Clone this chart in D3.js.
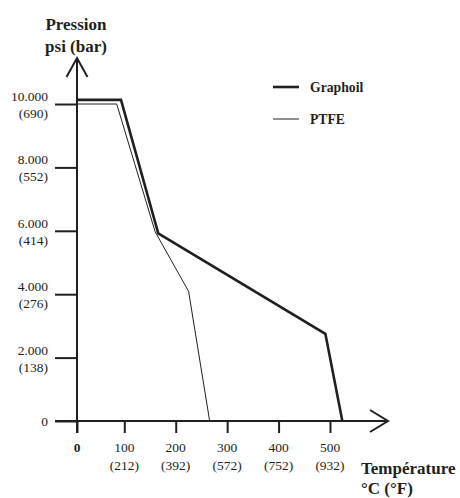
<!DOCTYPE html>
<html>
<head>
    <title>Pression / Température</title>
    <script src="https://cdnjs.cloudflare.com/ajax/libs/d3/7.8.5/d3.min.js"></script>
    <style>
        body {
            margin: 0;
            background-color: white;
        }
        #chart {
            width: 460px;
            height: 498px;
        }
        text {
            font-family: "Liberation Serif", "DejaVu Serif", serif;
            fill: #231f20;
        }
    </style>
</head>
<body>
    <div id="chart"></div>

    <script>
        // Axis ticks
        const tempTicks = [0, 100, 200, 300, 400, 500];
        const tempTicksF = ['', '(212)', '(392)', '(572)', '(752)', '(932)'];
        const psiTicks = [0, 2000, 4000, 6000, 8000, 10000];
        const psiLabels = ['0', '2.000', '4.000', '6.000', '8.000', '10.000'];
        const barLabels = ['', '(138)', '(276)', '(414)', '(552)', '(690)'];

        // Series (temperature °C, pressure psi)
        const graphoilTemp = [0, 93, 166, 491, 524];
        const graphoilPsi = [10130, 10130, 5920, 2750, 0];
        const ptfeTemp = [0, 84, 160, 225, 266];
        const ptfePsi = [10000, 10000, 5970, 4090, 0];

        const ink = '#231f20';

        const svg = d3.select('#chart')
            .append('svg')
                .attr('width', 460)
                .attr('height', 498);

        // Scales (the printed axis has a slightly shorter first interval)
        const x = d3.scaleLinear()
            .domain([0, 100, 500])
            .range([77, 124.3, 330]);

        const y = d3.scaleLinear()
            .domain([0, 10000])
            .range([421, 104]);

        // Y axis ticks
        const yAxis = d3.axisLeft(y)
            .tickValues(psiTicks)
            .tickSize(22)
            .tickFormat('');

        const gy = svg.append('g')
            .attr('transform', `translate(${x(0)},0)`)
            .call(yAxis);
        gy.select('.domain').remove();
        gy.selectAll('.tick line')
            .attr('stroke', ink)
            .attr('stroke-width', 2);

        // X axis ticks
        const xAxis = d3.axisBottom(x)
            .tickValues(tempTicks)
            .tickSize(12)
            .tickFormat('');

        const gx = svg.append('g')
            .attr('transform', `translate(0,${y(0)})`)
            .call(xAxis);
        gx.select('.domain').remove();
        gx.selectAll('.tick line')
            .attr('stroke', ink)
            .attr('stroke-width', 2);

        // Axis lines with open arrow heads
        svg.append('line')
            .attr('x1', x(0)).attr('y1', y(0) + 12)
            .attr('x2', x(0)).attr('y2', 58)
            .attr('stroke', ink).attr('stroke-width', 2);
        svg.append('path')
            .attr('d', `M${x(0) - 10.5},77 L${x(0)},58 L${x(0) + 10.5},77`)
            .attr('fill', 'none').attr('stroke', ink).attr('stroke-width', 2);

        svg.append('line')
            .attr('x1', 55).attr('y1', y(0))
            .attr('x2', 388).attr('y2', y(0))
            .attr('stroke', ink).attr('stroke-width', 2);
        svg.append('path')
            .attr('d', `M370,${y(0) - 11} L388,${y(0)} L370,${y(0) + 11}`)
            .attr('fill', 'none').attr('stroke', ink).attr('stroke-width', 2);

        // Y tick labels
        psiTicks.forEach((d, i) => {
            const t = svg.append('text')
                .attr('text-anchor', 'end')
                .style('font-size', '13.5px');
            if (d === 0) {
                t.attr('x', 48).attr('y', y(d) + 5).text(psiLabels[i]);
            } else {
                t.append('tspan').attr('x', 48).attr('y', y(d) - 3).text(psiLabels[i]);
                t.append('tspan').attr('x', 48).attr('y', y(d) + 14).text(barLabels[i]);
            }
        });

        // X tick labels
        tempTicks.forEach((d, i) => {
            const t = svg.append('text')
                .attr('text-anchor', 'middle')
                .style('font-size', '13.5px');
            t.append('tspan')
                .attr('x', x(d)).attr('y', 452)
                .style('font-weight', d === 0 ? 'bold' : 'normal')
                .text(d);
            if (tempTicksF[i]) {
                t.append('tspan').attr('x', x(d)).attr('y', 470).text(tempTicksF[i]);
            }
        });

        // Axis titles
        const ty = svg.append('text')
            .attr('text-anchor', 'middle')
            .style('font-size', '17px')
            .style('font-weight', 'bold');
        ty.append('tspan').attr('x', 76).attr('y', 30).text('Pression');
        ty.append('tspan').attr('x', 76).attr('y', 52).text('psi (bar)');

        const tx = svg.append('text')
            .style('font-size', '17px')
            .style('font-weight', 'bold');
        tx.append('tspan').attr('x', 361).attr('y', 474).text('Température');
        tx.append('tspan').attr('x', 361).attr('y', 494).text('°C (°F)');

        // Lines
        const line = d3.line()
            .x(d => x(d[0]))
            .y(d => y(d[1]));

        svg.append('path')
            .datum(d3.zip(ptfeTemp, ptfePsi))
            .attr('fill', 'none')
            .attr('stroke', ink)
            .attr('stroke-width', 1)
            .attr('d', line);

        svg.append('path')
            .datum(d3.zip(graphoilTemp, graphoilPsi))
            .attr('fill', 'none')
            .attr('stroke', ink)
            .attr('stroke-width', 2.6)
            .attr('d', line);

        // Legend
        const legend = [
            {name: 'Graphoil', width: 2.6, y: 87},
            {name: 'PTFE', width: 1, y: 119}
        ];
        legend.forEach(l => {
            svg.append('line')
                .attr('x1', 273).attr('x2', 299)
                .attr('y1', l.y).attr('y2', l.y)
                .attr('stroke', ink)
                .attr('stroke-width', l.width);
            svg.append('text')
                .attr('x', 310).attr('y', l.y + 4.5)
                .style('font-size', '13.7px')
                .style('font-weight', 'bold')
                .text(l.name);
        });
    </script>
</body>
</html>
